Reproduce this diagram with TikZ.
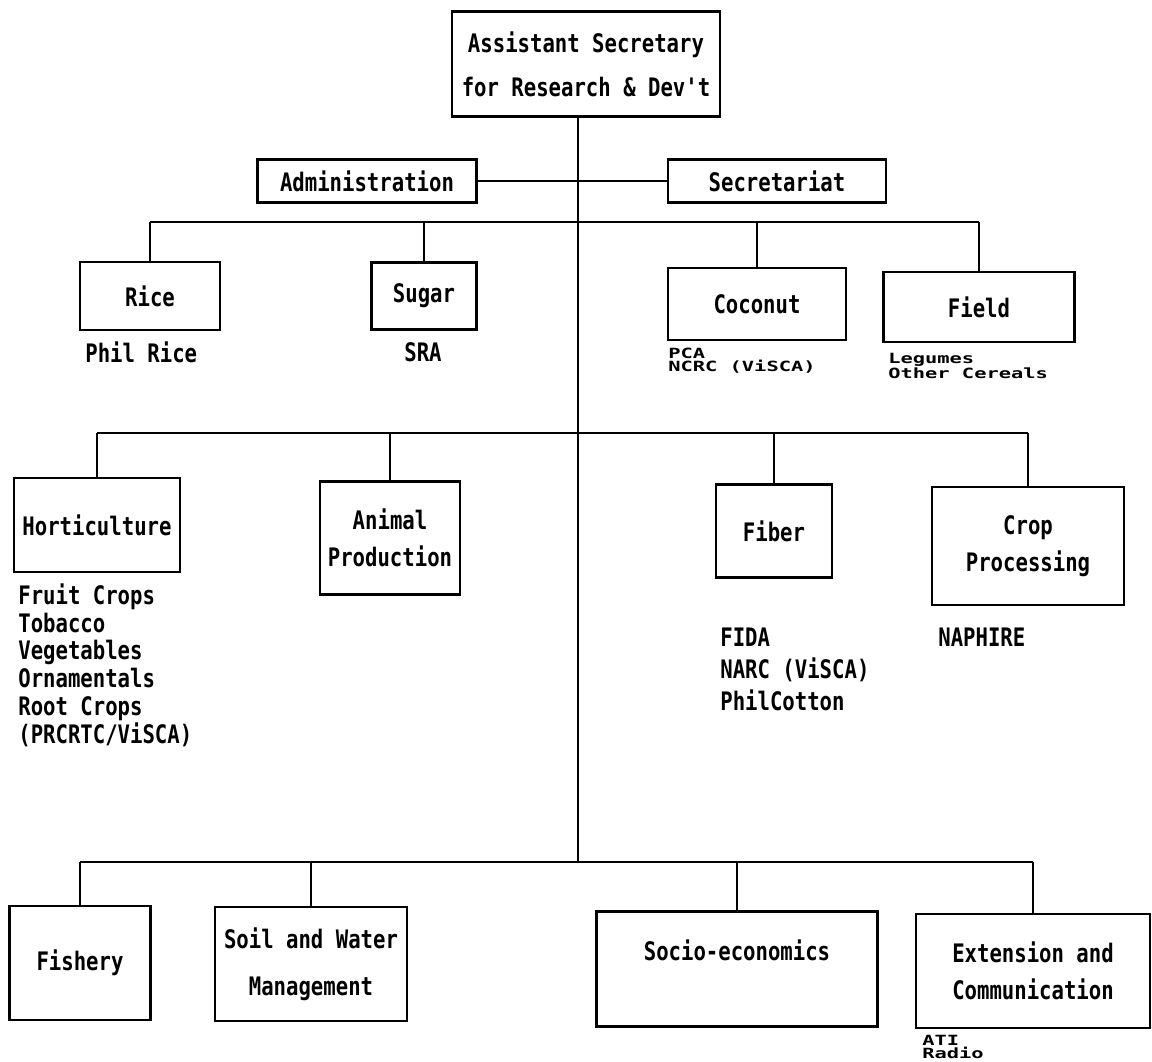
\documentclass[tikz,border=0pt]{standalone}
\usepackage{fontspec}
\setmonofont[FakeStretch=0.81]{DejaVu Sans Mono}
\newfontfamily\flatfont[FakeStretch=1.45]{DejaVu Sans Mono}
\tikzset{
  unit/.style={draw, line width=1.2pt, align=center, inner sep=2pt,
    font=\ttfamily\bfseries\fontsize{14.5}{21}\selectfont},
  note/.style={anchor=north west, align=left, inner sep=0pt,
    font=\ttfamily\bfseries\fontsize{14.5}{#1}\selectfont},
  note/.default=15.9,
  tight/.style={anchor=north west, align=left, inner sep=0pt,
    font=\flatfont\bfseries\fontsize{8}{7.4}\selectfont},
  link/.style={line width=1pt},
  bar/.style={line width=1.5pt}
}

\begin{document}
\begin{tikzpicture}[x=0.02cm, y=-0.02cm]
    \useasboundingbox (0,0) rectangle (1152,1061);

    % head of the office
    \node[unit, minimum width=5.36cm, minimum height=2.1cm] (asec) at (586,64) {Assistant Secretary\\[4pt]for Research \& Dev't};
    \node[unit, minimum width=4.38cm, minimum height=0.86cm] (admin) at (367,181) {Administration};
    \node[unit, minimum width=4.36cm, minimum height=0.86cm] (secr) at (777,181) {Secretariat};

    % junctions on the trunk
    \coordinate (j1) at (578,222);
    \coordinate (j2) at (578,433);
    \coordinate (j3) at (578,862);

    % first row
    \node[unit, minimum width=2.8cm, minimum height=1.36cm] (rice) at (150,296) {Rice};
    \node[unit, minimum width=2.1cm, minimum height=1.34cm] (sugar) at (424,296) {Sugar};
    \node[unit, minimum width=3.56cm, minimum height=1.44cm] (coconut) at (757,304) {Coconut};
    \node[unit, minimum width=3.82cm, minimum height=1.4cm] (field) at (979,307) {Field};

    \node[note, anchor=west] (philrice) at (85,352) {Phil Rice};
    \node[note, anchor=west] (sra) at (404,352) {SRA};
    \node[tight] (pca) at (668,348) {PCA\\NCRC (ViSCA)};
    \node[tight] (legumes) at (888,353) {Legumes\\Other Cereals};

    % second row
    \node[unit, minimum width=3.32cm, minimum height=1.88cm] (horti) at (97,525) {Horticulture};
    \node[unit, minimum width=2.8cm, minimum height=2.26cm] (animal) at (390,538) {Animal\\Production};
    \node[unit, minimum width=2.32cm, minimum height=1.86cm] (fiber) at (774,531) {Fiber};
    \node[unit, minimum width=3.84cm, minimum height=2.36cm] (crop) at (1028,546) {Crop\\Processing};

    \node[note] (hortlist) at (18,583) {Fruit Crops\\Tobacco\\Vegetables\\Ornamentals\\Root Crops\\(PRCRTC/ViSCA)};
    \node[note=18.1] (fiberlist) at (720,628) {FIDA\\NARC (ViSCA)\\PhilCotton};
    \node[note] (naphire) at (938,628) {NAPHIRE};

    % third row
    \node[unit, minimum width=2.82cm, minimum height=2.28cm] (fishery) at (80,963) {Fishery};
    \node[unit, minimum width=3.84cm, minimum height=2.28cm] (soil) at (311,964) {Soil and Water\\[6pt]Management};
    \node[unit, minimum width=5.62cm, minimum height=2.3cm] (socio) at (737,969) {Socio-economics\\~};
    \node[unit, minimum width=4.68cm, minimum height=2.28cm] (ext) at (1033,971) {Extension and\\Communication};

    \node[tight] (ati) at (922,1035) {ATI\\Radio};

    % lines
    \draw[link] (j3) -- (j3 |- asec.south);
    \draw[link] (admin) -- (secr);

    \draw[bar] (rice.north |- j1) -- (field.north |- j1);
    \foreach \n in {rice,sugar,coconut,field}
        \draw[link] (\n.north) -- (\n.north |- j1);

    \draw[bar] (horti.north |- j2) -- (crop.north |- j2);
    \foreach \n in {horti,animal,fiber,crop}
        \draw[link] (\n.north) -- (\n.north |- j2);

    \draw[bar] (fishery.north |- j3) -- (ext.north |- j3);
    \foreach \n in {fishery,soil,socio,ext}
        \draw[link] (\n.north) -- (\n.north |- j3);
\end{tikzpicture}
\end{document}
